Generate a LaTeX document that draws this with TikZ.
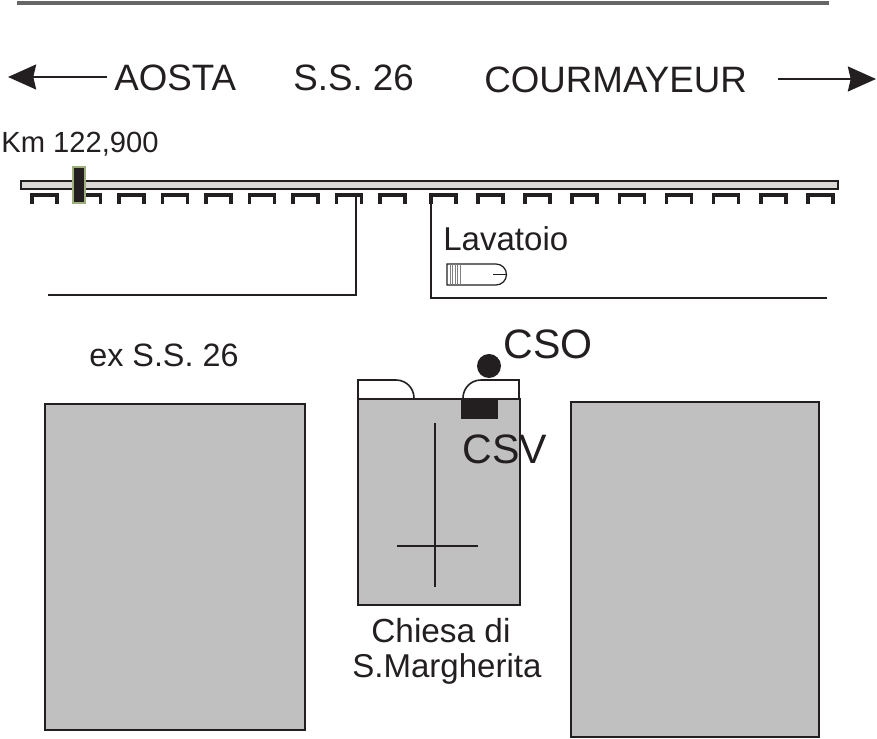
\documentclass[tikz,border=0pt]{standalone}
\usepackage{fontspec}
\setmainfont{Liberation Sans}
\usetikzlibrary{arrows.meta}
\definecolor{roadfill}{HTML}{DAD9D5}
\definecolor{blockfill}{HTML}{C0C0C0}
\definecolor{inkdark}{HTML}{231F20}
\definecolor{markedge}{HTML}{9DB07A}
\tikzset{
	lbl/.style={inner sep=0pt, anchor=base west, text=inkdark},
	big/.style={lbl, font=\fontsize{20.9}{24}\selectfont},
	huge/.style={lbl, font=\fontsize{23.4}{27}\selectfont},
	small/.style={lbl, font=\fontsize{16.6}{20}\selectfont},
	medium/.style={lbl, font=\fontsize{18.8}{22}\selectfont},
	block/.style={draw=inkdark, fill=blockfill, line width=0.9pt},
	fence/.style={draw=inkdark, line width=0.9pt},
	tooth/.style={draw=inkdark, line width=2.1pt},
	arrowline/.style={draw=inkdark, line width=1.1pt, -{Stealth[length=16pt, width=14.2pt, inset=1.6pt]}}
}

\begin{document}
\begin{tikzpicture}[x=0.02cm, y=-0.02cm]
		%%%%% START %%%%%
		\useasboundingbox (0, 0) rectangle (877, 739);
		
		\draw[line width=2.8pt, color=black!60] (17, 3) -- (829, 3);
		
		\coordinate (aostaFrom) at (107, 77);
		\coordinate (aostaTo) at (8, 77);
		\coordinate (courFrom) at (778, 79);
		\coordinate (courTo) at (876, 79);
		\draw[arrowline] (aostaFrom) -- (aostaTo);
		\draw[arrowline] (courFrom) -- (courTo);
		
		\node[big] (aosta) at (114, 91) {AOSTA};
		\node[big] (statale) at (293, 91) {S.S. 26};
		\node[big] (cour) at (484, 93) {COURMAYEUR};
		\node[small] (km) at (1, 153) {Km 122,900};
		
		\draw[draw=inkdark, fill=roadfill, line width=1.1pt] (21, 181) rectangle (838, 189);
		\foreach \i in {0,...,8}
			\draw[tooth] ({32+\i*43.5}, 204) -- ++(0, -9) -- ++(25, 0) -- ++(0, 9);
		\foreach \i in {0,...,8}
			\draw[tooth] ({431+\i*47.1}, 204) -- ++(0, -9) -- ++(25, 0) -- ++(0, 9);
		\draw[draw=markedge, fill=inkdark, line width=1pt] (73, 167) rectangle (85, 203);
		
		\draw[fence] (356, 195) -- (356, 295) -- (48, 295);
		\draw[fence] (431, 193) -- (431, 298) -- (827, 298);
		
		\node[medium] (lavatoio) at (443, 251) {Lavatoio};
		\draw[draw=inkdark, line width=0.7pt] (447, 264) -- (496, 264) arc (-90:90:10.5) -- (447, 285) -- cycle;
		\draw[draw=inkdark, line width=0.7pt] (493, 274.5) -- (507, 274.5);
		\foreach \x in {450,452.5,455,457.5,460}
			\draw[line width=0.5pt, color=black!50] (\x, 264) -- (\x, 285);
		
		\node[medium, font=\fontsize{18.4}{22}\selectfont] (exstatale) at (89, 367) {ex S.S. 26};
		
		\draw[block] (45, 404) rectangle (305, 730);
		\draw[block] (571, 402) rectangle (819, 737);
		\draw[block] (358, 399) rectangle (520, 605);
		
		\draw[fence] (358, 399) -- (358, 380) -- (396, 380) arc (-90:0:18) -- (414, 399);
		\draw[fence] (463, 399) -- (463, 398) arc (180:270:18) -- (519, 380) -- (519, 399);
		\draw[fill=inkdark, draw=none] (461, 399) rectangle (498, 419);
		\draw[fill=inkdark, draw=none] (489, 366) circle (12);
		
		\draw[fence] (435, 423) -- (435, 587);
		\draw[fence] (397, 546) -- (478, 546);
		
		\node[huge] (cso) at (503, 359) {CSO};
		\node[huge] (csv) at (462, 464) {CSV};
		\node[medium, font=\fontsize{19}{22}\selectfont] (chiesa) at (371, 643) {Chiesa di};
		\node[medium] (margherita) at (352, 678) {S.Margherita};
		
		%%%%% END %%%%%
	\end{tikzpicture}
\end{document}
